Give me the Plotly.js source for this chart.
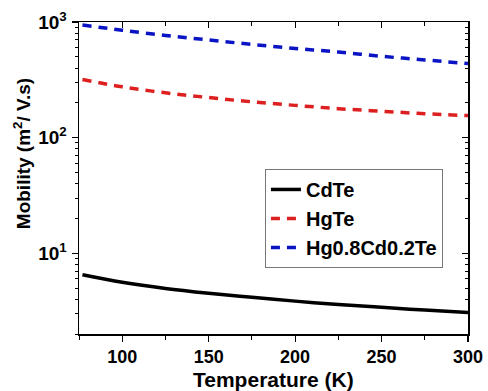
<!DOCTYPE html>
<html>
<head>
<meta charset="utf-8">
<script src="https://cdn.plot.ly/plotly-3.0.1.min.js"></script>
<style>html,body{margin:0;padding:0;background:#fff;}#chart{width:488px;height:391px;}</style>
</head>
<body>
<div id="chart"></div>
<script>
const temperature = [77, 100, 125, 150, 175, 200, 225, 250, 275, 300];
const cdte = [6.5, 5.6, 4.95, 4.5, 4.15, 3.85, 3.6, 3.4, 3.22, 3.07];
const hgte = [318, 275, 244, 222, 204, 190, 178, 169, 161, 155];
const hgcdte = [940, 850, 764, 700, 640, 590, 550, 505, 470, 437];
const seriesNames = ["CdTe", "HgTe", "Hg0.8Cd0.2Te"];
const xTickVals = [100, 150, 200, 250, 300];
const xMinorVals = [75, 125, 175, 225, 275];
const yTickVals = [10, 100, 1000];
const yTickText = ["10<sup>1</sup>", "10<sup>2</sup>", "10<sup>3</sup>"];
const yMinorVals = [2,3,4,5,6,7,8,9,20,30,40,50,60,70,80,90,200,300,400,500,600,700,800,900];

const FONT = "Liberation Sans, Arial, sans-serif";
const traces = [
  {x: temperature, y: cdte, name: seriesNames[0], mode: "lines", line: {color: "#000000", width: 3.5, shape: "spline"}},
  {x: temperature, y: hgte, name: seriesNames[1], mode: "lines", line: {color: "#dd1f1f", width: 3.5, dash: "9px,7px", shape: "spline"}},
  {x: temperature, y: hgcdte, name: seriesNames[2], mode: "lines", line: {color: "#0a14c4", width: 3.5, dash: "9px,7px", shape: "spline"}},
  {x: [], y: [], xaxis: "x2", yaxis: "y2", showlegend: false, hoverinfo: "skip"}
];

const xr = [75, 300];
const yr = [Math.log10(2), 3];
const layout = {
  width: 488, height: 391,
  margin: {l: 79, r: 20, t: 22, b: 57},
  paper_bgcolor: "#ffffff", plot_bgcolor: "#ffffff",
  font: {family: FONT, size: 16, color: "#000"},
  showlegend: true,
  legend: {
    x: 0.478, y: 0.529, xanchor: "left", yanchor: "top",
    bgcolor: "#ffffff", bordercolor: "#777777", borderwidth: 1,
    font: {family: FONT, size: 20, color: "#000", weight: "bold"},
    tracegroupgap: 0, itemwidth: 30, entrywidth: 186, entrywidthmode: "pixels"
  },
  xaxis: {
    range: xr, showgrid: false, zeroline: false,
    showline: true, linecolor: "#000", linewidth: 1.5,
    ticks: "outside", ticklen: 6, tickwidth: 1.2, tickcolor: "#000",
    tickvals: xTickVals,
    minor: {tickvals: xMinorVals, ticks: "outside", ticklen: 4, tickwidth: 1, tickcolor: "#000"},
    tickfont: {family: FONT, size: 18, color: "#000", weight: "bold"}
  },
  yaxis: {
    type: "log", range: yr, showgrid: false, zeroline: false,
    showline: true, linecolor: "#000", linewidth: 1.5,
    ticks: "outside", ticklen: 6, tickwidth: 1.2, tickcolor: "#000",
    tickmode: "array", tickvals: yTickVals, ticktext: yTickText,
    minor: {tickmode: "array", tickvals: yMinorVals, ticks: "outside", ticklen: 3, tickwidth: 1, tickcolor: "#000"},
    tickfont: {family: FONT, size: 19, color: "#000", weight: "bold"},
    ticklabelstandoff: 1
  },
  xaxis2: {
    overlaying: "x", side: "top", range: xr, showgrid: false, zeroline: false,
    showline: true, linecolor: "#000", linewidth: 1.5,
    ticks: "inside", ticklen: 6, tickwidth: 1.2, tickcolor: "#000",
    tickvals: xTickVals, showticklabels: false,
    minor: {tickvals: xMinorVals, ticks: "inside", ticklen: 4, tickwidth: 1, tickcolor: "#000"}
  },
  yaxis2: {
    overlaying: "y", side: "right", type: "log", range: yr, showgrid: false, zeroline: false,
    showline: true, linecolor: "#000", linewidth: 1.5,
    ticks: "inside", ticklen: 6, tickwidth: 1.2, tickcolor: "#000",
    tickmode: "array", tickvals: yTickVals, showticklabels: false,
    minor: {tickmode: "array", tickvals: yMinorVals, ticks: "inside", ticklen: 3, tickwidth: 1, tickcolor: "#000"}
  },
  annotations: [
    {
      text: "Mobility (m<sup>2</sup>/ V.s)", textangle: -90,
      xref: "paper", yref: "paper", x: -0.146, y: 0.577,
      xanchor: "center", yanchor: "middle", showarrow: false,
      font: {family: FONT, size: 19, color: "#000", weight: "bold"}
    },
    {
      text: "Temperature (K)",
      xref: "paper", yref: "paper", x: 0.5, y: -0.145,
      xanchor: "center", yanchor: "middle", showarrow: false,
      font: {family: FONT, size: 21, color: "#000", weight: "bold"}
    }
  ]
};

Plotly.newPlot("chart", traces, layout, {displayModeBar: false, staticPlot: true});
</script>
</body>
</html>
